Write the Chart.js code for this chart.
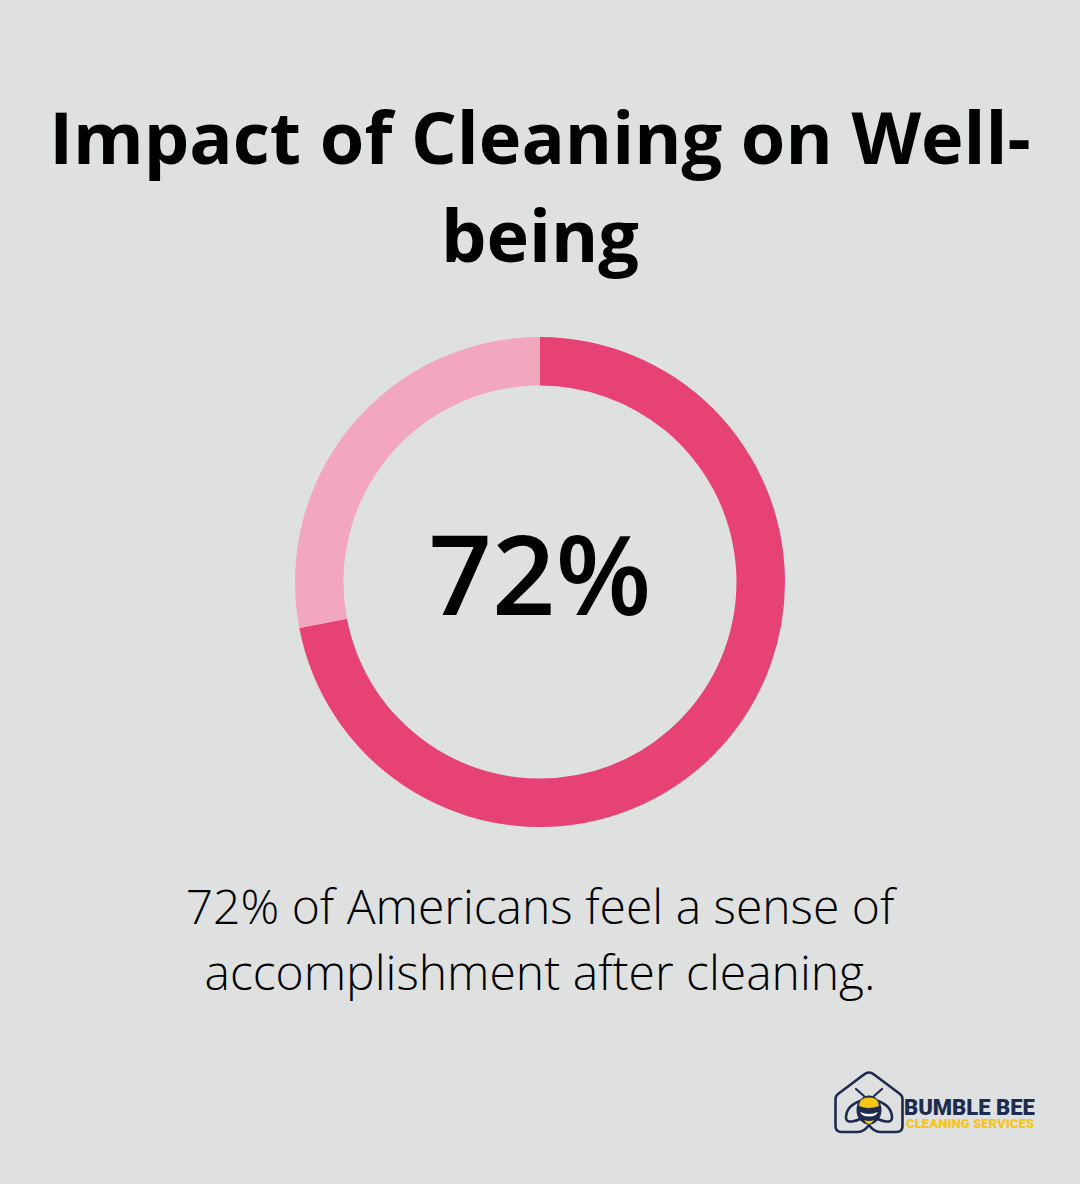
<!DOCTYPE html>
<html>
<head>
<meta charset="utf-8">
<style>
  html, body { margin: 0; padding: 0; background: #dfe1e0; }
  #page { position: relative; width: 1080px; height: 1184px; overflow: hidden; font-family: "Open Sans", sans-serif; color: #000; }
  h1 { position: absolute; left: 0; top: 87px; width: 1080px; margin: 0; text-align: center; font-size: 72px; line-height: 98px; font-weight: 700; }
  #chart-wrap { position: absolute; left: 290px; top: 332px; width: 500px; height: 500px; }
  #center { position: absolute; left: 290px; top: 502px; width: 500px; text-align: center; font-size: 111px; line-height: 140px; font-weight: 600; }
  #caption { position: absolute; left: 0; top: 873px; width: 1080px; text-align: center; font-size: 48px; line-height: 66px; font-weight: 300; }
  #logo { position: absolute; left: 832px; top: 1068px; }
  #brand { position: absolute; left: 904px; top: 1098px; font-family: Roboto, sans-serif; font-weight: 900; font-size: 22px; line-height: 19px; color: #1d2b4f; white-space: nowrap; }
  #brand2 { position: absolute; left: 906px; top: 1117px; font-family: Roboto, sans-serif; font-weight: 900; font-size: 13.2px; line-height: 13px; color: #f5c518; white-space: nowrap; }
</style>
<script src="https://cdn.jsdelivr.net/npm/chart.js@4"></script>
</head>
<body>
<div id="page">
  <h1>Impact of Cleaning on Well-<br>being</h1>
  <div id="chart-wrap"><canvas id="donut" width="500" height="500"></canvas></div>
  <div id="center">72%</div>
  <div id="caption">72% of Americans feel a sense of<br>accomplishment after cleaning.</div>
  <svg id="logo" width="74" height="68" viewBox="0 0 74 68">
    <path d="M37 4.5 Q34.5 4.5 32 6.5 L6 26 Q3.5 28 3.5 31 V58 Q3.5 64 9.5 64 H26 Q32 64 37 57 Q42 64 48 64 H64.5 Q70.5 64 70.5 58 V31 Q70.5 28 68 26 L42 6.5 Q39.5 4.5 37 4.5 Z" fill="none" stroke="#1d2b4f" stroke-width="2.6" stroke-linejoin="round"/>
    <path d="M28 33 Q14 38 14 50 Q14 54 20 53.5 Q24 53 28 51 M46 33 Q60 38 60 50 Q60 54 54 53.5 Q50 53 46 51" fill="none" stroke="#1d2b4f" stroke-width="2.6" stroke-linecap="round"/>
    <path d="M32 28 L24 21 M42 28 L50 21" stroke="#1d2b4f" stroke-width="2.2" stroke-linecap="round"/>
    <ellipse cx="37" cy="42" rx="12.5" ry="14.5" fill="#1d2b4f"/>
    <path d="M27 38 Q27 29.5 37 29.5 Q47 29.5 47 38 Q37 42 27 38 Z" fill="#f5c518"/>
    <path d="M28 44 Q37 48 46 44 Q44 48.5 37 48.5 Q30 48.5 28 44 Z" fill="#ffffff"/>
    <path d="M32 52 Q37 54 42 52 Q40 55.5 37 56 Q34 55.5 32 52 Z" fill="#f5c518"/>
  </svg>
  <div id="brand">BUMBLE BEE</div>
  <div id="brand2">CLEANING SERVICES</div>
</div>
<script>
const labels = ['Feel accomplished', 'Others'];
const values = [72, 28];
const colors = ['#e64274', '#f3a7bf'];

new Chart(document.getElementById('donut').getContext('2d'), {
  type: 'doughnut',
  data: {
    labels,
    datasets: [{ data: values, backgroundColor: colors, borderWidth: 0 }]
  },
  options: {
    responsive: false,
    animation: false,
    cutout: '80.2%',
    layout: { padding: 5 },
    plugins: { legend: { display: false }, tooltip: { enabled: false } }
  }
});
</script>
</body>
</html>
